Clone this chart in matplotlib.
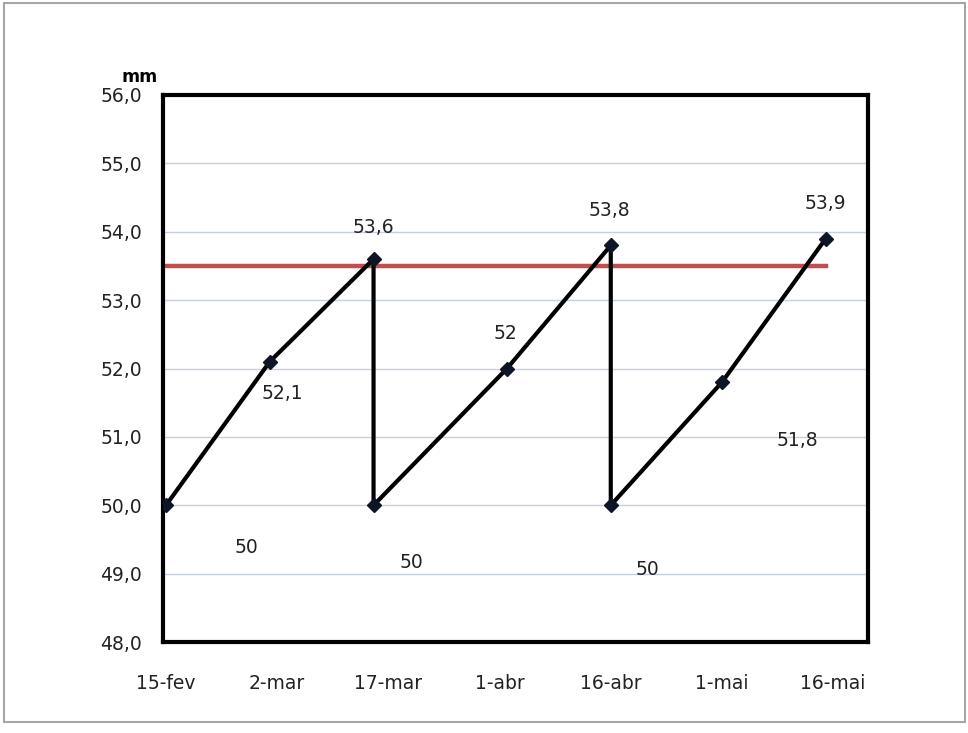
import matplotlib.pyplot as plt
from matplotlib.patches import Rectangle
from matplotlib.ticker import FuncFormatter

# days after 15-fev for each measurement
days = [0, 14, 28, 28, 46, 60, 60, 75, 89]
values = [50.0, 52.1, 53.6, 50.0, 52.0, 53.8, 50.0, 51.8, 53.9]
labels = ['50', '52,1', '53,6', '50', '52', '53,8', '50', '51,8', '53,9']
# label offsets in pixels (dx, dy)
label_offsets = [(80, -42), (13, -32), (0, 32), (38, -57), (-2, 35),
                 (-1, 35), (37, -64), (75, -58), (0, 35)]

tick_days = [0, 15, 30, 45, 60, 75, 90]
tick_labels = ['15-fev', '2-mar', '17-mar', '1-abr', '16-abr', '1-mai', '16-mai']
limit = 53.5

fig = plt.figure(figsize=(9.68, 7.33), dpi=100)
ax = fig.add_axes([0.1684, 0.1241, 0.7283, 0.7463])

# outer gray frame of the chart area
fig.patches.append(Rectangle((4 / 968, 1 - 722 / 733), 961 / 968, 719 / 733,
                             transform=fig.transFigure, fill=False,
                             edgecolor='#a6a6a6', linewidth=1.5))

ax.plot([days[0], days[-1]], [limit, limit], color='#c0504d', linewidth=3.2, zorder=2)
ax.plot(days, values, color='black', linewidth=3, marker='D', markersize=7,
        markerfacecolor='#0d1526', markeredgecolor='#0d1526', zorder=3)

for x, y, txt, (dx, dy) in zip(days, values, labels, label_offsets):
    ax.annotate(txt, (x, y), xytext=(dx, dy), textcoords='offset pixels',
                ha='center', va='center', fontsize=13.5, color='#222222')

ax.set_xlim(-0.4, 94.7)
ax.set_ylim(48, 56)
ax.set_yticks(range(48, 57))
ax.yaxis.set_major_formatter(FuncFormatter(lambda v, p: f'{v:.1f}'.replace('.', ',')))
ax.set_xticks(tick_days)
ax.set_xticklabels(tick_labels)
ax.tick_params(length=0, labelsize=13.5, colors='#222222')
ax.tick_params(axis='x', pad=23)
ax.tick_params(axis='y', pad=15)
ax.grid(axis='y', color='#c5d0de', linewidth=1)
ax.set_axisbelow(True)
for s in ax.spines.values():
    s.set_linewidth(3)
    s.set_color('black')

fig.text(140 / 968, 1 - 77 / 733, 'mm', fontsize=12.5, fontweight='bold',
         ha='center', va='center')

fig.savefig('out.png', dpi=100)
